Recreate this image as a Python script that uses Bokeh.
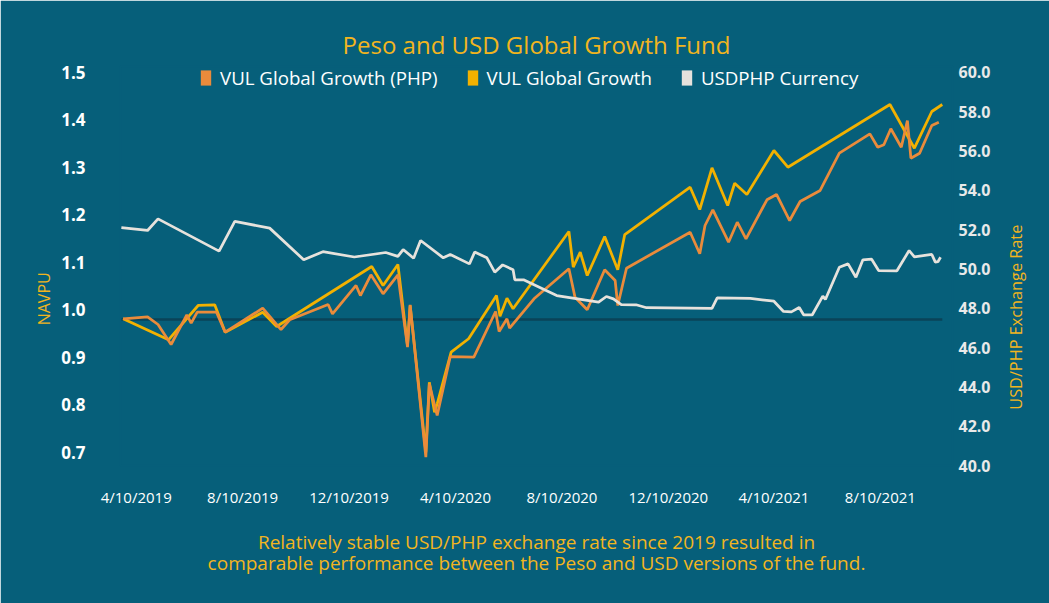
import math
import pandas as pd
from bokeh.plotting import figure
from bokeh.models import (Range1d, LinearAxis, FixedTicker, NumeralTickFormatter,
                          DatetimeTickFormatter, Legend, LegendItem, Label)
from bokeh.core.enums import CoordinateUnits
from bokeh.embed import file_html
from bokeh.resources import INLINE

# ---------------- data ----------------
TITLE = "Peso and USD Global Growth Fund"
CAPTION = ["Relatively stable USD/PHP exchange rate since 2019 resulted in",
           "comparable performance between the Peso and USD versions of the fund."]
SERIES_NAMES = ["VUL Global Growth (PHP)", "VUL Global Growth", "USDPHP Currency"]
LEFT_TITLE = "NAVPU"
RIGHT_TITLE = "USD/PHP Exchange Rate"

X_TICK_DATES = ["2019-04-10", "2019-08-10", "2019-12-10", "2020-04-10",
                "2020-08-10", "2020-12-10", "2021-04-10", "2021-08-10"]
LEFT_TICKS = [0.7, 0.8, 0.9, 1.0, 1.1, 1.2, 1.3, 1.4, 1.5]
RIGHT_TICKS = [40, 42, 44, 46, 48, 50, 52, 54, 56, 58, 60]
BASELINE_NAVPU = 0.98

PHP_DATES = ["2019-03-26", "2019-04-23", "2019-05-05", "2019-05-20", "2019-06-07",
             "2019-06-12", "2019-06-19", "2019-07-11", "2019-07-21", "2019-09-02",
             "2019-09-23", "2019-10-03", "2019-11-16", "2019-11-21", "2019-12-18",
             "2019-12-23", "2020-01-04", "2020-01-18", "2020-02-04", "2020-02-15",
             "2020-02-18", "2020-03-07", "2020-03-11", "2020-03-20", "2020-04-04",
             "2020-05-01", "2020-05-26", "2020-05-30", "2020-06-08", "2020-06-11",
             "2020-07-09", "2020-08-18", "2020-08-25", "2020-09-08", "2020-09-28",
             "2020-10-10", "2020-10-13", "2020-10-23", "2021-01-04", "2021-01-15",
             "2021-01-21", "2021-01-30", "2021-02-17", "2021-02-27", "2021-03-09",
             "2021-04-02", "2021-04-13", "2021-04-28", "2021-05-10", "2021-06-02",
             "2021-06-24", "2021-07-29", "2021-08-07", "2021-08-14", "2021-08-22",
             "2021-09-03", "2021-09-10", "2021-09-14", "2021-09-24", "2021-10-08",
             "2021-10-16"]
PHP_NAVPU = [0.9815, 0.9857, 0.9695, 0.9274, 0.9899,
             0.9722, 0.9954, 0.9954, 0.9533, 1.0038,
             0.9589, 0.9794, 1.0116, 0.9920, 1.0516,
             1.0305, 1.0741, 1.0341, 1.0741, 0.9217,
             1.0109, 0.6901, 0.8446, 0.7779, 0.9021,
             0.9006, 0.9968, 0.9547, 0.9815, 0.9617,
             1.0236, 1.0867, 1.0269, 1.0004, 1.0846,
             1.0621, 1.0095, 1.0880, 1.1638, 1.1183,
             1.1779, 1.2109, 1.1427, 1.1848, 1.1499,
             1.2320, 1.2432, 1.1884, 1.2284, 1.2516,
             1.3301, 1.3709, 1.3427, 1.3478, 1.3815,
             1.3427, 1.3989, 1.3196, 1.3301, 1.3884,
             1.3954]

USD_DATES = ["2019-03-26", "2019-05-17", "2019-06-20", "2019-07-09", "2019-07-21",
             "2019-09-02", "2019-09-18", "2020-01-05", "2020-01-18", "2020-02-04",
             "2020-02-15", "2020-02-18", "2020-03-07", "2020-03-11", "2020-03-17",
             "2020-03-20", "2020-04-05", "2020-04-25", "2020-05-27", "2020-05-31",
             "2020-06-08", "2020-06-15", "2020-08-18", "2020-08-23", "2020-08-31",
             "2020-09-08", "2020-09-28", "2020-10-13", "2020-10-21", "2021-01-04",
             "2021-01-15", "2021-01-29", "2021-02-16", "2021-02-24", "2021-03-10",
             "2021-04-10", "2021-04-26", "2021-08-21", "2021-09-18", "2021-10-08",
             "2021-10-20"]
USD_NAVPU = [0.9815, 0.9373, 1.0095, 1.0109, 0.9533,
             0.9954, 0.9653, 1.0916, 1.0516, 1.0958,
             0.9253, 1.0095, 0.7006, 0.8480, 0.7848,
             0.8025, 0.9112, 0.9394, 1.0305, 0.9869,
             1.0248, 1.0025, 1.1653, 1.0901, 1.1217,
             1.0726, 1.1547, 1.0846, 1.1589, 1.2585,
             1.2116, 1.2994, 1.2200, 1.2669, 1.2432,
             1.3358, 1.3006, 1.4326, 1.3406, 1.4179,
             1.4326]

FX_DATES = ["2019-03-24", "2019-04-23", "2019-05-05", "2019-07-14", "2019-08-01",
            "2019-09-10", "2019-10-19", "2019-11-10", "2019-12-16", "2020-01-21",
            "2020-02-04", "2020-02-10", "2020-02-22", "2020-03-01", "2020-03-27",
            "2020-04-04", "2020-04-26", "2020-05-02", "2020-05-16", "2020-05-25",
            "2020-06-03", "2020-06-15", "2020-06-17", "2020-06-27", "2020-08-04",
            "2020-09-21", "2020-09-30", "2020-10-08", "2020-10-17", "2020-11-03",
            "2020-11-15", "2021-01-29", "2021-02-04", "2021-03-14", "2021-04-10",
            "2021-04-21", "2021-04-30", "2021-05-09", "2021-05-14", "2021-05-24",
            "2021-06-05", "2021-06-08", "2021-06-24", "2021-07-04", "2021-07-13",
            "2021-07-21", "2021-07-31", "2021-08-08", "2021-08-29", "2021-09-12",
            "2021-09-18", "2021-10-08", "2021-10-12", "2021-10-15", "2021-10-18"]
USDPHP = [52.10, 51.96, 52.55, 50.91, 52.42,
          52.08, 50.47, 50.88, 50.61, 50.84,
          50.64, 50.99, 50.55, 51.45, 50.57,
          50.74, 50.26, 50.86, 50.57, 49.84,
          50.21, 49.96, 49.45, 49.45, 48.65,
          48.31, 48.60, 48.48, 48.19, 48.18,
          48.03, 48.00, 48.53, 48.50, 48.36,
          47.84, 47.82, 48.04, 47.67, 47.67,
          48.62, 48.45, 50.09, 50.26, 49.58,
          50.47, 50.50, 49.92, 49.91, 50.94,
          50.62, 50.74, 50.35, 50.37, 50.60]

# ---------------- style ----------------
BG = "#065F7A"
GOLD = "#F2B51E"
ORANGE = "#EA8B3B"
YELLOW = "#F2B100"
LIGHT = "#E6E2DC"
DARK = "#0A4359"
FONT = "Open Sans"
LW = 2.75

to_dt = lambda lst: pd.to_datetime(lst)
units = "canvas" if "canvas" in CoordinateUnits else "screen"

p = figure(width=1049, height=603, x_axis_type="datetime",
           output_backend="svg", toolbar_location=None,
           x_range=Range1d(pd.Timestamp("2019-03-23 00:00"), pd.Timestamp("2021-10-31 16:48")),
           y_range=Range1d(0.67263, 1.51263),
           background_fill_color=BG, border_fill_color=BG,
           min_border_left=120, min_border_right=97,
           min_border_top=66, min_border_bottom=138)
p.outline_line_color = BG
p.outline_line_width = 2
p.grid.visible = False

p.extra_y_ranges = {"fx": Range1d(40, 60.305)}
right_axis = LinearAxis(y_range_name="fx")
p.add_layout(right_axis, "right")

for ax in [p.xaxis[0], p.yaxis[0], right_axis]:
    ax.axis_line_color = None
    ax.major_tick_line_color = None
    ax.minor_tick_line_color = None
    ax.major_tick_out = 0
    ax.major_tick_in = 0
    ax.major_label_text_font = FONT

ly = p.yaxis[0]
ly.ticker = FixedTicker(ticks=LEFT_TICKS)
ly.formatter = NumeralTickFormatter(format="0.0")
ly.major_label_text_color = "white"
ly.major_label_text_font_size = "17px"
ly.major_label_text_font_style = "bold"
ly.major_label_standoff = 35

right_axis.ticker = FixedTicker(ticks=RIGHT_TICKS)
right_axis.formatter = NumeralTickFormatter(format="0.0")
right_axis.major_label_text_color = "#E9E9E9"
right_axis.major_label_text_font_size = "16px"
right_axis.major_label_text_font_style = "bold"
right_axis.major_label_standoff = 6

xa = p.xaxis[0]
xa.ticker = FixedTicker(ticks=[pd.Timestamp(d).value / 1e6 for d in X_TICK_DATES])
fmt = "%-m/%d/%Y"
xa.formatter = DatetimeTickFormatter(milliseconds=fmt, seconds=fmt, minsec=fmt, minutes=fmt,
                                     hourmin=fmt, hours=fmt, days=fmt, months=fmt, years=fmt)
xa.major_label_text_color = "white"
xa.major_label_text_font_size = "15px"
xa.major_label_standoff = 21

# baseline
all_dates = to_dt(PHP_DATES + USD_DATES + FX_DATES)
p.segment(x0=[all_dates.min()], y0=[BASELINE_NAVPU], x1=[all_dates.max()], y1=[BASELINE_NAVPU],
          line_color=DARK, line_width=2.5)

# series
p.line(to_dt(USD_DATES), USD_NAVPU, line_color=YELLOW, line_width=LW)
p.line(to_dt(PHP_DATES), PHP_NAVPU, line_color=ORANGE, line_width=LW)
p.line(to_dt(FX_DATES), USDPHP, line_color=LIGHT, line_width=LW, y_range_name="fx")

# legend with square swatches (proxy renderers, nothing drawn in the plot)
nan = float("nan")
swatches = []
for c in [ORANGE, YELLOW, LIGHT]:
    swatches.append(p.quad(left=[nan], right=[nan], top=[nan], bottom=[nan],
                           fill_color=c, line_color=None))
legend = Legend(items=[LegendItem(label=n, renderers=[r]) for n, r in zip(SERIES_NAMES, swatches)],
                location=(79, 375), orientation="horizontal",
                background_fill_alpha=0, border_line_color=None,
                label_text_color="white", label_text_font=FONT, label_text_font_size="18.7px",
                glyph_width=13, glyph_height=19, label_standoff=8,
                spacing=28, padding=0, margin=0)
p.add_layout(legend)

# title
p.title.text = TITLE
p.title.align = "center"
p.title.text_color = GOLD
p.title.text_font = FONT
p.title.text_font_size = "24px"
p.title.text_font_style = "normal"
p.title.standoff = 11

# axis titles (both read bottom-to-top)
p.add_layout(Label(x=43.3, y=298.3, x_units=units, y_units=units, text=LEFT_TITLE,
                   angle=math.pi / 2, text_align="center", text_baseline="middle",
                   text_color=GOLD, text_font=FONT, text_font_size="16px"), "left")
p.add_layout(Label(x=1015, y=316.7, x_units=units, y_units=units, text=RIGHT_TITLE,
                   angle=math.pi / 2, text_align="center", text_baseline="middle",
                   text_color=GOLD, text_font=FONT, text_font_size="16.3px"), "right")

# caption, two centred lines
for line, cy in zip(CAPTION, [541, 562]):
    p.add_layout(Label(x=536, y=cy, x_units=units, y_units=units, text=line,
                       text_align="center", text_baseline="middle",
                       text_color=GOLD, text_font=FONT, text_font_size="19px"), "below")

open("out.html", "w").write(file_html(p, INLINE))
